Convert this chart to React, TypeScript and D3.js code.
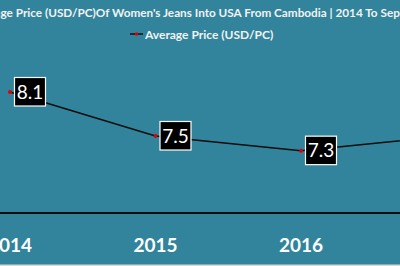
import React, { useLayoutEffect, useRef, useState } from "react";
import * as d3 from "d3";

const years = ["2014", "2015", "2016", "2017"];
const prices = [8.1, 7.5, 7.3, 7.5];
const titleText = "Average Price (USD/PC)Of Women's Jeans Into USA From Cambodia | 2014 To Sep 2018";
const legendLabel = "Average Price (USD/PC)";

const W = 400;
const H = 266;
const BG = "#31849B";
const FONT = "Lato, 'Open Sans', sans-serif";

export default function App() {
  const titleRef = useRef<SVGTextElement>(null);
  const [titleFs, setTitleFs] = useState(13);
  const [titleX, setTitleX] = useState(-35);

  useLayoutEffect(() => {
    const t = titleRef.current;
    if (!t) return;
    try {
      const cur = parseFloat(t.getAttribute("font-size") || "13");
      const endIdx = titleText.indexOf("Sep") + 3;
      const visW = t.getSubStringLength(5, endIdx - 5);
      const fs = (cur * 400) / visW;
      if (Math.abs(fs - cur) > 0.05) {
        setTitleFs(fs);
        return;
      }
      const w = t.getSubStringLength(0, 5);
      setTitleX(-w + 0.5);
    } catch (e) {}
  }, [titleFs]);

  const x = d3.scalePoint<string>().domain(years).range([10, 10 + 3 * 145.5]);
  const y = d3.scaleLinear().domain([6.45, 8.1]).range([213, 92]);
  const line = d3
    .line<number>()
    .x((_, i) => x(years[i]) as number)
    .y((d) => y(d));

  return (
    <svg
      width={W}
      height={H}
      style={{ position: "absolute", left: 0, top: 0, display: "block" }}
    >
      <rect x={0} y={0} width={W} height={H} fill="#d9d9d9" />
      <rect x={0} y={0} width={W} height={264.5} fill={BG} />
      <text
        ref={titleRef}
        x={titleX}
        y={17}
        fill="#f2f2f2"
        fontFamily={FONT}
        fontWeight="bold"
        fontSize={titleFs}
      >
        {titleText}
      </text>
      <g>
        <line x1={130} x2={143} y1={34} y2={34} stroke="#111" strokeWidth={1.5} />
        <circle cx={136.5} cy={34} r={1.8} fill="#e00000" />
        <text x={145} y={38.5} fill="#f2f2f2" fontFamily={FONT} fontWeight="bold" fontSize={12}>
          {legendLabel}
        </text>
      </g>
      <line x1={0} x2={W} y1={213} y2={213} stroke="#0d0d0d" strokeWidth={1.8} />
      {years.map((yr) => (
        <text
          key={yr}
          x={x(yr)}
          y={252}
          textAnchor="middle"
          fill="#ffffff"
          fontFamily={FONT}
          fontWeight="bold"
          fontSize={19}
        >
          {yr}
        </text>
      ))}
      <path d={line(prices) || ""} fill="none" stroke="#0d0d0d" strokeWidth={1.5} />
      {prices.map((v, i) => (
        <circle key={"m" + i} cx={x(years[i])} cy={y(v)} r={2} fill="#e00000" />
      ))}
      {prices.map((v, i) => {
        const px = x(years[i]) as number;
        const py = y(v);
        return (
          <g key={"l" + i}>
            <rect
              x={px + 4.5}
              y={py - 14.5}
              width={31}
              height={28.5}
              fill="#000"
              stroke="#fff"
              strokeWidth={1.2}
            />
            <text
              x={px + 20}
              y={py + 6.5}
              textAnchor="middle"
              fill="#fff"
              fontFamily={FONT}
              fontSize={19}
            >
              {v.toFixed(1)}
            </text>
          </g>
        );
      })}
    </svg>
  );
}
